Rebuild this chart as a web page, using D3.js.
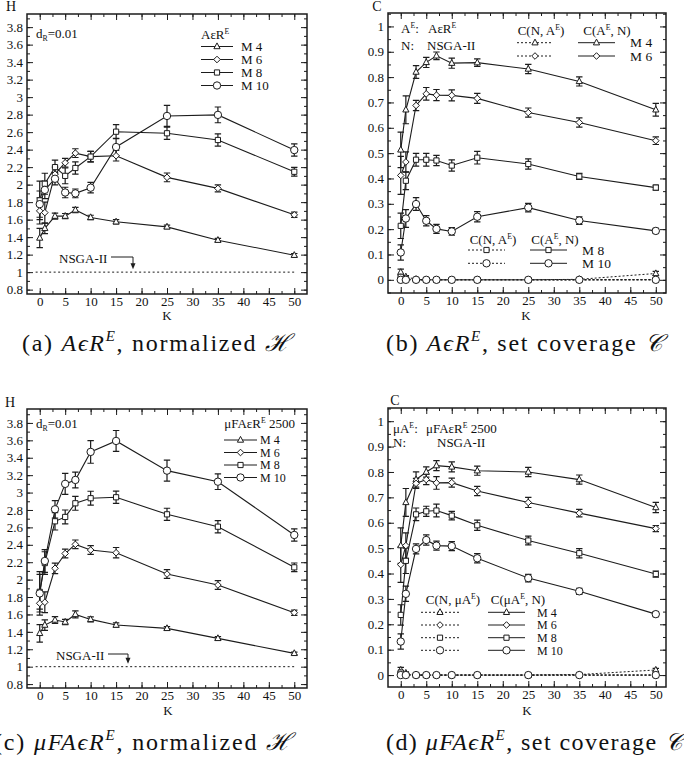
<!DOCTYPE html>
<html>
<head>
<meta charset="utf-8">
<script src="https://cdn.jsdelivr.net/npm/d3@7"></script>
<style>
  body { margin: 0; background: #fff; }
  svg { display: block; }
  text { font-family: "Liberation Serif", "Times New Roman", Times, serif; fill: #111; }
</style>
</head>
<body>
<script>
// K values shared by every panel
var K = [0, 1, 3, 5, 7, 10, 15, 25, 35, 50];

// (a) AeR^E, normalized hypervolume
var aM4 = [1.39, 1.50, 1.64, 1.64, 1.71, 1.625, 1.575, 1.517, 1.365, 1.193];
var aM4Err = [0.11, 0.06, 0.035, 0.03, 0.03, 0.025, 0.025, 0.02, 0.02, 0.02];
var aM6 = [1.70, 1.68, 2.12, 2.25, 2.36, 2.32, 2.33, 2.083, 1.957, 1.655];
var aM6Err = [0.15, 0.12, 0.08, 0.05, 0.05, 0.06, 0.06, 0.05, 0.04, 0.03];
var aM8 = [1.82, 2.01, 2.20, 2.10, 2.19, 2.32, 2.605, 2.587, 2.51, 2.147];
var aM8Err = [0.22, 0.12, 0.08, 0.09, 0.07, 0.06, 0.08, 0.07, 0.07, 0.05];
var aM10 = [1.777, 1.94, 2.067, 1.91, 1.90, 1.965, 2.43, 2.785, 2.797, 2.395];
var aM10Err = [0.15, 0.1, 0.07, 0.06, 0.05, 0.06, 0.1, 0.12, 0.09, 0.07];

// (b) AeR^E, set coverage: C(A^E, N) solid, C(N, A^E) dotted
var bM4 = [0.513, 0.671, 0.82, 0.858, 0.884, 0.855, 0.857, 0.832, 0.783, 0.671];
var bM4Err = [0.07, 0.055, 0.025, 0.02, 0.015, 0.02, 0.015, 0.018, 0.018, 0.025];
var bM6 = [0.412, 0.465, 0.688, 0.734, 0.729, 0.728, 0.716, 0.66, 0.621, 0.549];
var bM6Err = [0.075, 0.04, 0.02, 0.025, 0.022, 0.022, 0.02, 0.018, 0.018, 0.015];
var bM8 = [0.213, 0.391, 0.474, 0.474, 0.471, 0.451, 0.482, 0.457, 0.408, 0.364];
var bM8Err = [0.05, 0.035, 0.025, 0.025, 0.02, 0.022, 0.025, 0.02, 0.012, 0.01];
var bM10 = [0.108, 0.242, 0.299, 0.233, 0.201, 0.191, 0.249, 0.285, 0.234, 0.193];
var bM10Err = [0.03, 0.035, 0.025, 0.02, 0.018, 0.015, 0.02, 0.017, 0.015, 0.01];
var bM4N = [0.03, 0.012, 0.002, 0, 0, 0, 0, 0, 0.002, 0.025];
var bM4NErr = [0.012, 0.005, 0, 0, 0, 0, 0, 0, 0, 0.008];
var bM6N = [0.01, 0.003, 0, 0, 0, 0, 0, 0, 0, 0.001];
var bM8N = [0.012, 0.004, 0, 0, 0, 0, 0, 0, 0, 0];
var bM10N = [0, 0, 0, 0, 0, 0, 0, 0, 0, 0];

// (c) muFAeR^E 2500, normalized hypervolume
var cM4 = [1.383, 1.478, 1.536, 1.513, 1.60, 1.543, 1.478, 1.44, 1.325, 1.153];
var cM4Err = [0.1, 0.06, 0.04, 0.03, 0.04, 0.03, 0.025, 0.02, 0.02, 0.015];
var cM6 = [1.728, 1.74, 2.13, 2.30, 2.405, 2.34, 2.309, 2.064, 1.938, 1.62];
var cM6Err = [0.1, 0.12, 0.06, 0.05, 0.05, 0.05, 0.06, 0.05, 0.05, 0.03];
var cM8 = [1.86, 2.19, 2.67, 2.72, 2.877, 2.935, 2.946, 2.75, 2.608, 2.141];
var cM8Err = [0.2, 0.13, 0.1, 0.08, 0.08, 0.08, 0.07, 0.07, 0.07, 0.05];
var cM10 = [1.842, 2.214, 2.808, 3.10, 3.145, 3.467, 3.593, 3.252, 3.125, 2.513];
var cM10Err = [0.25, 0.13, 0.1, 0.12, 0.09, 0.13, 0.12, 0.12, 0.09, 0.07];

// (d) muFAeR^E 2500, set coverage
var dM4 = [0.51, 0.68, 0.77, 0.80, 0.825, 0.82, 0.805, 0.80, 0.77, 0.66];
var dM4Err = [0.07, 0.055, 0.03, 0.02, 0.02, 0.02, 0.018, 0.018, 0.018, 0.02];
var dM6 = [0.435, 0.51, 0.755, 0.77, 0.757, 0.758, 0.725, 0.68, 0.638, 0.577];
var dM6Err = [0.07, 0.05, 0.02, 0.02, 0.025, 0.018, 0.018, 0.02, 0.015, 0.012];
var dM8 = [0.237, 0.45, 0.633, 0.645, 0.648, 0.628, 0.59, 0.53, 0.48, 0.398];
var dM8Err = [0.04, 0.05, 0.025, 0.02, 0.025, 0.017, 0.02, 0.017, 0.018, 0.012];
var dM10 = [0.132, 0.32, 0.497, 0.532, 0.51, 0.508, 0.46, 0.382, 0.33, 0.24];
var dM10Err = [0.03, 0.03, 0.02, 0.02, 0.018, 0.018, 0.018, 0.015, 0.012, 0.01];
var dM4N = [0.02, 0.008, 0, 0, 0, 0, 0, 0, 0.002, 0.02];
var dM4NErr = [0.01, 0.004, 0, 0, 0, 0, 0, 0, 0, 0.006];
var dM6N = [0.008, 0.002, 0, 0, 0, 0, 0, 0, 0, 0];
var dM8N = [0.01, 0.003, 0, 0, 0, 0, 0, 0, 0, 0];
var dM10N = [0, 0, 0, 0, 0, 0, 0, 0, 0, 0];

// tick labels
var kTicks = [0, 5, 10, 15, 20, 25, 30, 35, 40, 45, 50];
var hTicks = [0.8, 1, 1.2, 1.4, 1.6, 1.8, 2, 2.2, 2.4, 2.6, 2.8, 3, 3.2, 3.4, 3.6, 3.8];
var cTicks = [0, 0.1, 0.2, 0.3, 0.4, 0.5, 0.6, 0.7, 0.8, 0.9, 1];
var seriesNames = ["M 4", "M 6", "M 8", "M 10"];
var symbols = ["tri", "dia", "sq", "circ"];

var INK = "#1c1c1c";
var SERIF = "'Liberation Serif', 'Times New Roman', Times, serif";

var svg = d3.select("body").append("svg")
    .attr("width", 684)
    .attr("height", 761);

// Marker path centred on 0,0
function symPath(type) {
    if (type === "tri") return "M0,-3.6L3.1,2.2L-3.1,2.2Z";
    if (type === "dia") return "M0,-3.3L3.3,0L0,3.3L-3.3,0Z";
    if (type === "sq") return "M-2.6,-2.6H2.6V2.6H-2.6Z";
    var p = d3.path();
    p.arc(0, 0, 3.7, 0, 2 * Math.PI);
    return p.toString();
}

function marker(g, type, cx, cy) {
    g.append("path")
        .attr("d", symPath(type))
        .attr("transform", "translate(" + cx + "," + cy + ")")
        .attr("fill", "#fff")
        .attr("stroke", INK)
        .attr("stroke-width", 1);
}

function fmt(d) { return String(+d.toFixed(2)); }

// Draw one panel: frame, inward ticks on four sides, series with error bars
function drawPanel(p) {
    var g = svg.append("g");
    var x = d3.scaleLinear().domain(p.xDomain).range([p.left, p.right]);
    var y = d3.scaleLinear().domain(p.yDomain).range([p.bottom, p.top]);

    var tickStyle = function(sel) {
        sel.attr("font-family", null).attr("font-size", null);
        sel.select(".domain").remove();
        sel.selectAll("line").attr("stroke", INK).attr("stroke-width", 1);
        sel.selectAll("text").attr("font-size", 13).attr("fill", "#111")
            .style("font-family", SERIF);
    };

    // minor ticks
    var yMinor = d3.range(p.yDomain[0], p.yDomain[1], p.yMinorStep)
        .map(function(v) { return Math.ceil(v / p.yMinorStep - 1e-6) * p.yMinorStep; })
        .filter(function(v) { return v >= p.yDomain[0] && v <= p.yDomain[1]; });
    var xMinor = d3.range(0, 50.1, 2.5);

    g.append("g").attr("transform", "translate(" + p.left + ",0)")
        .call(d3.axisLeft(y).tickValues(yMinor).tickSize(-3).tickFormat("")).call(tickStyle);
    g.append("g").attr("transform", "translate(" + p.right + ",0)")
        .call(d3.axisRight(y).tickValues(yMinor).tickSize(-3).tickFormat("")).call(tickStyle);
    g.append("g").attr("transform", "translate(0," + p.bottom + ")")
        .call(d3.axisBottom(x).tickValues(xMinor).tickSize(-3).tickFormat("")).call(tickStyle);
    g.append("g").attr("transform", "translate(0," + p.top + ")")
        .call(d3.axisTop(x).tickValues(xMinor).tickSize(-3).tickFormat("")).call(tickStyle);

    // major ticks with labels
    g.append("g").attr("transform", "translate(" + p.left + ",0)")
        .call(d3.axisLeft(y).tickValues(p.yTicks).tickSize(-6).tickPadding(4).tickFormat(fmt)).call(tickStyle);
    g.append("g").attr("transform", "translate(" + p.right + ",0)")
        .call(d3.axisRight(y).tickValues(p.yTicks).tickSize(-6).tickFormat("")).call(tickStyle);
    g.append("g").attr("transform", "translate(0," + p.bottom + ")")
        .call(d3.axisBottom(x).tickValues(kTicks).tickSize(-6).tickPadding(3).tickFormat(fmt)).call(tickStyle);
    g.append("g").attr("transform", "translate(0," + p.top + ")")
        .call(d3.axisTop(x).tickValues(kTicks).tickSize(-6).tickFormat("")).call(tickStyle);

    // frame
    g.append("rect")
        .attr("x", p.left).attr("y", p.top)
        .attr("width", p.right - p.left).attr("height", p.bottom - p.top)
        .attr("fill", "none").attr("stroke", INK).attr("stroke-width", 1.5);

    var line = d3.line()
        .x(function(d, i) { return x(K[i]); })
        .y(function(d) { return y(d); });

    p.series.forEach(function(s) {
        g.append("path")
            .attr("d", line(s.values))
            .attr("fill", "none")
            .attr("stroke", INK)
            .attr("stroke-width", s.dashed ? 1 : 1.1)
            .attr("stroke-dasharray", s.dashed ? "2,2" : null);
    });

    p.series.forEach(function(s) {
        if (!s.errs) return;
        s.values.forEach(function(v, i) {
            var e = s.errs[i];
            if (!e) return;
            var cx = x(K[i]), y0 = y(v - e), y1 = y(v + e);
            g.append("path")
                .attr("d", "M" + cx + "," + y0 + "V" + y1 +
                    "M" + (cx - 3.2) + "," + y0 + "h6.4" +
                    "M" + (cx - 3.2) + "," + y1 + "h6.4")
                .attr("fill", "none")
                .attr("stroke", INK)
                .attr("stroke-width", 1.2);
        });
    });

    p.series.forEach(function(s) {
        s.values.forEach(function(v, i) {
            marker(g, s.sym, x(K[i]), y(v));
        });
    });

    return { g: g, x: x, y: y };
}

// simple text helper; parts = [[text, {opts}], ...]
function richText(g, x, y, parts, size, anchor) {
    var t = g.append("text")
        .attr("x", x).attr("y", y)
        .attr("font-size", size)
        .attr("text-anchor", anchor || "start");
    parts.forEach(function(part) {
        var o = part[1] || {};
        var ts = t.append("tspan").text(part[0]);
        if (o.sup) ts.attr("dy", -size * 0.38).attr("font-size", size * 0.6);
        if (o.sub) ts.attr("dy", size * 0.25).attr("font-size", size * 0.6);
        if (o.back) ts.attr("dy", o.back);
    });
    return t;
}

function legendRow(g, x0, x1, yRow, sym, dashed) {
    g.append("line")
        .attr("x1", x0).attr("x2", x1).attr("y1", yRow).attr("y2", yRow)
        .attr("stroke", INK).attr("stroke-width", 1)
        .attr("stroke-dasharray", dashed ? "2,2" : null);
    marker(g, sym, (x0 + x1) / 2, yRow);
}

function nsgaNote(g, x, yOne, tx, ty, arrowX) {
    g.append("line")
        .attr("x1", x(-0.8)).attr("x2", x(50)).attr("y1", yOne).attr("y2", yOne)
        .attr("stroke", INK).attr("stroke-width", 1).attr("stroke-dasharray", "2,2.5");
    g.append("text").attr("x", tx).attr("y", ty).attr("font-size", 13).text("NSGA-II");
    g.append("path")
        .attr("d", "M" + (tx + 52) + "," + (ty - 6) + "H" + arrowX + "V" + (yOne - 8))
        .attr("fill", "none").attr("stroke", INK).attr("stroke-width", 1);
    g.append("path")
        .attr("d", "M" + (arrowX - 2.5) + "," + (yOne - 9) + "L" + (arrowX + 2.5) + "," + (yOne - 9) +
            "L" + arrowX + "," + (yOne - 3) + "Z")
        .attr("fill", INK);
}

function hSeries(v4, e4, v6, e6, v8, e8, v10, e10) {
    return [
        { values: v4, errs: e4, sym: "tri" },
        { values: v6, errs: e6, sym: "dia" },
        { values: v8, errs: e8, sym: "sq" },
        { values: v10, errs: e10, sym: "circ" }
    ];
}

// ---------- panel (a)
var pa = drawPanel({
    left: 27, right: 307, top: 14, bottom: 294,
    xDomain: [-2.5, 52.5], yDomain: [0.75, 3.95],
    yTicks: hTicks, yMinorStep: 0.1,
    series: hSeries(aM4, aM4Err, aM6, aM6Err, aM8, aM8Err, aM10, aM10Err)
});
nsgaNote(pa.g, pa.x, pa.y(1), 59, 263, 133);
richText(pa.g, 36, 38, [["d"], ["R", { sub: true }], ["=0.01", { back: -3.2 }]], 13);
richText(pa.g, 201, 39, [["AεR"], ["E", { sup: true }]], 13);
[46.5, 59.5, 72.5, 85.5].forEach(function(yy, i) {
    legendRow(pa.g, 201, 233, yy, symbols[i], false);
    pa.g.append("text").attr("x", 241).attr("y", yy + 4.5).attr("font-size", 13).text(seriesNames[i]);
});
svg.append("text").attr("x", 11).attr("y", 11).attr("font-size", 14).attr("text-anchor", "middle").text("H");
svg.append("text").attr("x", 167).attr("y", 320).attr("font-size", 13).attr("text-anchor", "middle").text("K");

// ---------- panel (b)
var bSeries = [
    { values: bM4N, errs: bM4NErr, sym: "tri", dashed: true },
    { values: bM6N, sym: "dia", dashed: true },
    { values: bM8N, sym: "sq", dashed: true },
    { values: bM10N, sym: "circ", dashed: true }
].concat(hSeries(bM4, bM4Err, bM6, bM6Err, bM8, bM8Err, bM10, bM10Err));
var pb = drawPanel({
    left: 388, right: 666, top: 13, bottom: 293,
    xDomain: [-2.5, 52], yDomain: [-0.052, 1.053],
    yTicks: cTicks, yMinorStep: 0.05,
    series: bSeries
});
richText(pb.g, 401, 33, [["A"], ["E", { sup: true }], [":", { back: 5 }]], 13);
richText(pb.g, 428, 33, [["AεR"], ["E", { sup: true }]], 13);
richText(pb.g, 401, 50, [["N:"]], 13);
richText(pb.g, 427, 50, [["NSGA-II"]], 13);
richText(pb.g, 541, 35, [["C(N, A"], ["E", { sup: true }], [")", { back: 5 }]], 13, "middle");
richText(pb.g, 607, 35, [["C(A"], ["E", { sup: true }], [", N)", { back: 5 }]], 13, "middle");
[42.7, 56].forEach(function(yy, i) {
    legendRow(pb.g, 517, 553, yy, symbols[i], true);
    legendRow(pb.g, 578, 615, yy, symbols[i], false);
    pb.g.append("text").attr("x", 630).attr("y", yy + 4.5).attr("font-size", 13.5).text(seriesNames[i]);
});
richText(pb.g, 493, 243.5, [["C(N, A"], ["E", { sup: true }], [")", { back: 5 }]], 13, "middle");
richText(pb.g, 555, 243.5, [["C(A"], ["E", { sup: true }], [", N)", { back: 5 }]], 13, "middle");
[250, 263.3].forEach(function(yy, i) {
    legendRow(pb.g, 468, 505, yy, symbols[i + 2], true);
    legendRow(pb.g, 530, 567, yy, symbols[i + 2], false);
    pb.g.append("text").attr("x", 582).attr("y", yy + 4.5).attr("font-size", 13.5).text(seriesNames[i + 2]);
});
svg.append("text").attr("x", 377).attr("y", 11).attr("font-size", 14).attr("text-anchor", "middle").text("C");
svg.append("text").attr("x", 526).attr("y", 320).attr("font-size", 13).attr("text-anchor", "middle").text("K");

// ---------- panel (c)
var pc = drawPanel({
    left: 27, right: 307, top: 409, bottom: 688,
    xDomain: [-2.5, 52.5], yDomain: [0.755, 3.96],
    yTicks: hTicks, yMinorStep: 0.1,
    series: hSeries(cM4, cM4Err, cM6, cM6Err, cM8, cM8Err, cM10, cM10Err)
});
nsgaNote(pc.g, pc.x, pc.y(1), 56, 660, 128);
richText(pc.g, 36, 428, [["d"], ["R", { sub: true }], ["=0.01", { back: -3.2 }]], 13);
richText(pc.g, 295, 428, [["μFAεR"], ["E", { sup: true }], [" 2500", { back: 5 }]], 13, "end");
[440, 452.5, 465, 477.5].forEach(function(yy, i) {
    legendRow(pc.g, 224, 257, yy, symbols[i], false);
    pc.g.append("text").attr("x", 260).attr("y", yy + 4.2).attr("font-size", 12).text(seriesNames[i]);
});
svg.append("text").attr("x", 10).attr("y", 407).attr("font-size", 14).attr("text-anchor", "middle").text("H");
svg.append("text").attr("x", 168).attr("y", 715).attr("font-size", 13).attr("text-anchor", "middle").text("K");

// ---------- panel (d)
var dSeries = [
    { values: dM4N, errs: dM4NErr, sym: "tri", dashed: true },
    { values: dM6N, sym: "dia", dashed: true },
    { values: dM8N, sym: "sq", dashed: true },
    { values: dM10N, sym: "circ", dashed: true }
].concat(hSeries(dM4, dM4Err, dM6, dM6Err, dM8, dM8Err, dM10, dM10Err));
var pd = drawPanel({
    left: 388, right: 666, top: 408, bottom: 687,
    xDomain: [-2.5, 52], yDomain: [-0.047, 1.052],
    yTicks: cTicks, yMinorStep: 0.05,
    series: dSeries
});
richText(pd.g, 393, 433, [["μA"], ["E", { sup: true }], [":", { back: 5 }]], 13);
richText(pd.g, 426, 433, [["μFAεR"], ["E", { sup: true }], [" 2500", { back: 5 }]], 13);
richText(pd.g, 393, 447, [["N:"]], 13);
richText(pd.g, 437, 447, [["NSGA-II"]], 13);
richText(pd.g, 453, 604, [["C(N, μA"], ["E", { sup: true }], [")", { back: 5 }]], 13, "middle");
richText(pd.g, 518, 604, [["C(μA"], ["E", { sup: true }], [", N)", { back: 5 }]], 13, "middle");
[612.3, 625, 637.7, 650.3].forEach(function(yy, i) {
    legendRow(pd.g, 421, 459, yy, symbols[i], true);
    legendRow(pd.g, 488, 525, yy, symbols[i], false);
    pd.g.append("text").attr("x", 537).attr("y", yy + 4.2).attr("font-size", 12).text(seriesNames[i]);
});
svg.append("text").attr("x", 395).attr("y", 405).attr("font-size", 14).attr("text-anchor", "middle").text("C");
svg.append("text").attr("x", 527).attr("y", 715).attr("font-size", 13).attr("text-anchor", "middle").text("K");

// ---------- captions
function caption(x, y, width, label, prefix, measure, sym) {
    var t = svg.append("text").attr("x", x).attr("y", y).attr("font-size", 24)
        .attr("textLength", width).attr("lengthAdjust", "spacing");
    t.append("tspan").text(label + " ");
    t.append("tspan").attr("font-style", "italic").text(prefix + "ϵR");
    t.append("tspan").attr("font-style", "italic").attr("font-size", 15).attr("dy", -10).text("E");
    t.append("tspan").attr("dy", 10).text(", " + measure + " ");
    t.append("tspan").attr("font-style", "italic").text(sym);
}
caption(22, 351, 268, "(a)", "A", "normalized", "ℋ");
caption(386, 351, 276, "(b)", "A", "set coverage", "𝒞");
caption(-6, 750, 297, "(c)", "μFA", "normalized", "ℋ");
caption(386, 750, 296, "(d)", "μFA", "set coverage", "𝒞");
</script>
</body>
</html>
